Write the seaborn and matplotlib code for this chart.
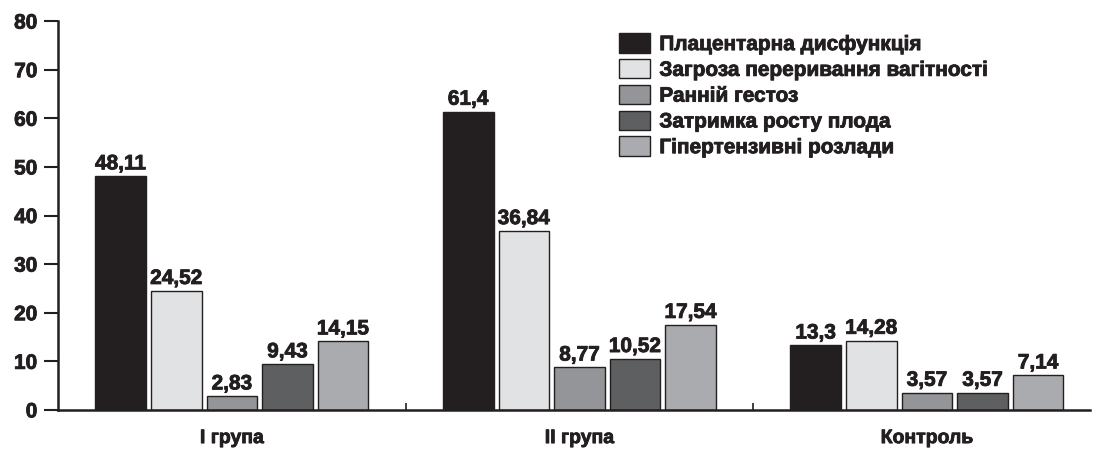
import matplotlib
matplotlib.use("Agg")
import matplotlib.pyplot as plt
import matplotlib.patheffects as pe
import seaborn as sns
import pandas as pd

groups = ["I група", "II група", "Контроль"]
series = ["Плацентарна дисфункція", "Загроза переривання вагітності",
          "Ранній гестоз", "Затримка росту плода", "Гіпертензивні розлади"]
placental = [48.11, 61.4, 13.3]
threat = [24.52, 36.84, 14.28]
gestosis = [2.83, 8.77, 3.57]
growth = [9.43, 10.52, 3.57]
hypert = [14.15, 17.54, 7.14]
yticks = [0, 10, 20, 30, 40, 50, 60, 70, 80]

colors = ["#231f20", "#e1e2e4", "#939598", "#5e5f61", "#a9abae"]
ink = "#231f20"

rows = []
for s, vals in zip(series, [placental, threat, gestosis, growth, hypert]):
    for g, v in zip(groups, vals):
        rows.append({"group": g, "series": s, "value": v})
df = pd.DataFrame(rows)

sns.set_style("white")
plt.rcParams["font.family"] = ["Liberation Sans", "DejaVu Sans"]
plt.rcParams["font.weight"] = "bold"

heavy = [pe.withStroke(linewidth=0.6, foreground=ink)]

fig = plt.figure(figsize=(10.98, 4.49), dpi=100)
ax = fig.add_axes([0.053, 0.087, 0.94, 0.866])
sns.barplot(data=df, x="group", y="value", hue="series", order=groups,
            hue_order=series, palette=colors, edgecolor=ink,
            linewidth=1.0, width=0.8, gap=0.09, ax=ax, saturation=1)

for cont in ax.containers:
    labels = [str(v).replace(".", ",") for v in cont.datavalues]
    txts = ax.bar_label(cont, labels=labels, padding=2, fontsize=15,
                        fontweight="bold", color=ink)
    for t in txts:
        t.set_path_effects(heavy)

ax.set_ylim(0, 80)
ax.set_xlim(-0.5, 2.47)
ax.set_yticks(yticks)
ax.set_yticklabels([str(t) for t in yticks], fontsize=15, fontweight="bold", color=ink)
ax.set_xticks([0, 1, 2])
ax.set_xticklabels(groups, fontsize=14, fontweight="bold", color=ink)
ax.tick_params(axis="y", which="major", left=True, direction="out", length=10,
               width=1.5, color=ink, pad=5)
ax.tick_params(axis="x", which="major", bottom=False, length=0, pad=14.5)
ax.set_xticks([0.5, 1.5], minor=True)
ax.tick_params(axis="x", which="minor", bottom=True, direction="in", length=5,
               width=1.2, color=ink)
for t in ax.get_xticklabels() + ax.get_yticklabels():
    t.set_path_effects(heavy)
ax.set_xlabel("")
ax.set_ylabel("")
for side in ["top", "right"]:
    ax.spines[side].set_visible(False)
for side in ["left", "bottom"]:
    ax.spines[side].set_linewidth(1.8)
    ax.spines[side].set_color(ink)

leg = ax.legend(loc="upper left", bbox_to_anchor=(0.535, 0.99), frameon=False,
                fontsize=15, handlelength=1.5, handleheight=1.05,
                labelspacing=0.24, handletextpad=0.45, borderaxespad=0)
for t in leg.get_texts():
    t.set_fontweight("bold")
    t.set_color(ink)
    t.set_path_effects(heavy)

fig.savefig("out.png", dpi=100)
